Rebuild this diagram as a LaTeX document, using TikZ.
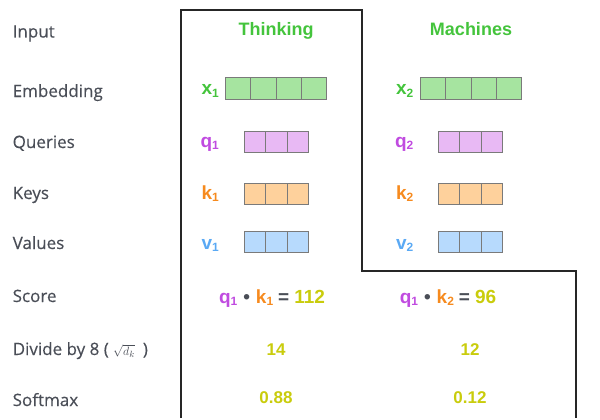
\documentclass[tikz,border=0pt]{standalone}
\usepackage{fontspec}
\setmainfont{Open Sans}
\newfontfamily\lblfont{Open Sans}[FakeBold=0.35]
\newfontfamily\hfont{Liberation Sans}
\definecolor{labgray}{HTML}{4A4E57}
\definecolor{hgreen}{HTML}{44C43C}
\definecolor{xfill}{HTML}{A6E4A0}
\definecolor{qcol}{HTML}{C04BE0}
\definecolor{qfill}{HTML}{E8B9F4}
\definecolor{kcol}{HTML}{F68A1E}
\definecolor{kfill}{HTML}{FED19C}
\definecolor{vcol}{HTML}{5AA9F4}
\definecolor{vfill}{HTML}{B7DAFD}
\definecolor{ncol}{HTML}{C9CC0C}
\definecolor{cellgray}{HTML}{7A7A7A}
\newcommand{\sbs}[1]{\raisebox{-2.5pt}{\fontsize{12}{12}\selectfont #1}}
\tikzset{
  lbl/.style={anchor=base west, font=\lblfont\fontsize{17}{17}\selectfont, text=labgray, inner sep=0pt},
  hd/.style={anchor=base, font=\hfont\bfseries\fontsize{18}{18}\selectfont, inner sep=0pt},
  vlab/.style={anchor=base east, font=\hfont\bfseries\fontsize{19}{19}\selectfont, inner sep=0pt},
  num/.style={anchor=base, font=\hfont\bfseries\fontsize{17}{17}\selectfont, text=ncol, inner sep=0pt},
  score/.style={anchor=base, font=\hfont\bfseries\fontsize{19}{19}\selectfont, text=ncol, inner sep=0pt},
  cellbox/.style={draw=cellgray, line width=1pt, minimum height=21pt, inner sep=0pt, anchor=west},
  outline/.style={draw=black!85, line width=1.4pt}
}
\begin{document}
\begin{tikzpicture}[x=1pt,y=-1pt]
\useasboundingbox (0,0) rectangle (600,420);
% row labels
\node[lbl] (Linput) at (12.5,37.5) {Input};
\node[lbl] (Lemb) at (12.5,97) {Embedding};
\node[lbl] (Lq) at (12.5,148) {Queries};
\node[lbl] (Lk) at (12.5,199) {Keys};
\node[lbl] (Lv) at (12.5,249) {Values};
\node[lbl] (Ls) at (12.5,302) {Score};
\node[lbl] (Ld) at (12.5,355) {Divide by 8 ( {\fontsize{13}{13}\selectfont$\sqrt{d_k}$}\hspace{8pt})};
\node[lbl] (Lsm) at (12.5,406) {Softmax};
% outline
\draw[outline] (181,418) -- (181,10) -- (362,10) -- (362,271) -- (576,271) -- (576,418);
% headers
\node[hd, text=hgreen] (think) at (276,36) {Thinking};
\node[hd, text=hgreen] (mach) at (471,36) {Machines};
% vector labels
\node[vlab, text=hgreen] (x1) at (219,95) {x\sbs{1}};
\node[vlab, text=qcol] (q1) at (219,147) {q\sbs{1}};
\node[vlab, text=kcol] (k1) at (219,199) {k\sbs{1}};
\node[vlab, text=vcol] (v1) at (219,249) {v\sbs{1}};
\node[vlab, text=hgreen] (x2) at (413.5,95) {x\sbs{2}};
\node[vlab, text=qcol] (q2) at (413.5,147) {q\sbs{2}};
\node[vlab, text=kcol] (k2) at (413.5,199) {k\sbs{2}};
\node[vlab, text=vcol] (v2) at (413.5,249) {v\sbs{2}};
% cells
\foreach \i in {0,...,3} {
  \node[cellbox, fill=xfill, minimum width=25.25pt] (xa\i) at (225+25.25*\i,88.5) {};
  \node[cellbox, fill=xfill, minimum width=25.25pt] (xb\i) at (420+25.25*\i,88.5) {};
}
\foreach \i in {0,...,2} {
  \node[cellbox, fill=qfill, minimum width=21.33pt] (qa\i) at (244+21.33*\i,141.5) {};
  \node[cellbox, fill=kfill, minimum width=21.33pt] (ka\i) at (244+21.33*\i,194) {};
  \node[cellbox, fill=vfill, minimum width=21.33pt] (va\i) at (244+21.33*\i,242) {};
  \node[cellbox, fill=qfill, minimum width=21.33pt] (qb\i) at (438+21.33*\i,141.5) {};
  \node[cellbox, fill=kfill, minimum width=21.33pt] (kb\i) at (438+21.33*\i,194) {};
  \node[cellbox, fill=vfill, minimum width=21.33pt] (vb\i) at (438+21.33*\i,242) {};
}
% scores
\node[score] (s1) at (272,303) {\textcolor{qcol}{q\sbs{1}}\hspace{6pt}\textcolor{labgray}{•}\hspace{6pt}\textcolor{kcol}{k\sbs{1}}\hspace{5pt}\textcolor{labgray}{=}\hspace{5pt}112};
\node[score] (s2) at (448,303) {\textcolor{qcol}{q\sbs{1}}\hspace{6pt}\textcolor{labgray}{•}\hspace{6pt}\textcolor{kcol}{k\sbs{2}}\hspace{5pt}\textcolor{labgray}{=}\hspace{5pt}96};
\node[num] (d1) at (276,355) {14};
\node[num] (d2) at (470,355) {12};
\node[num] (m1) at (276,403) {0.88};
\node[num] (m2) at (470,403) {0.12};
\end{tikzpicture}
\end{document}
